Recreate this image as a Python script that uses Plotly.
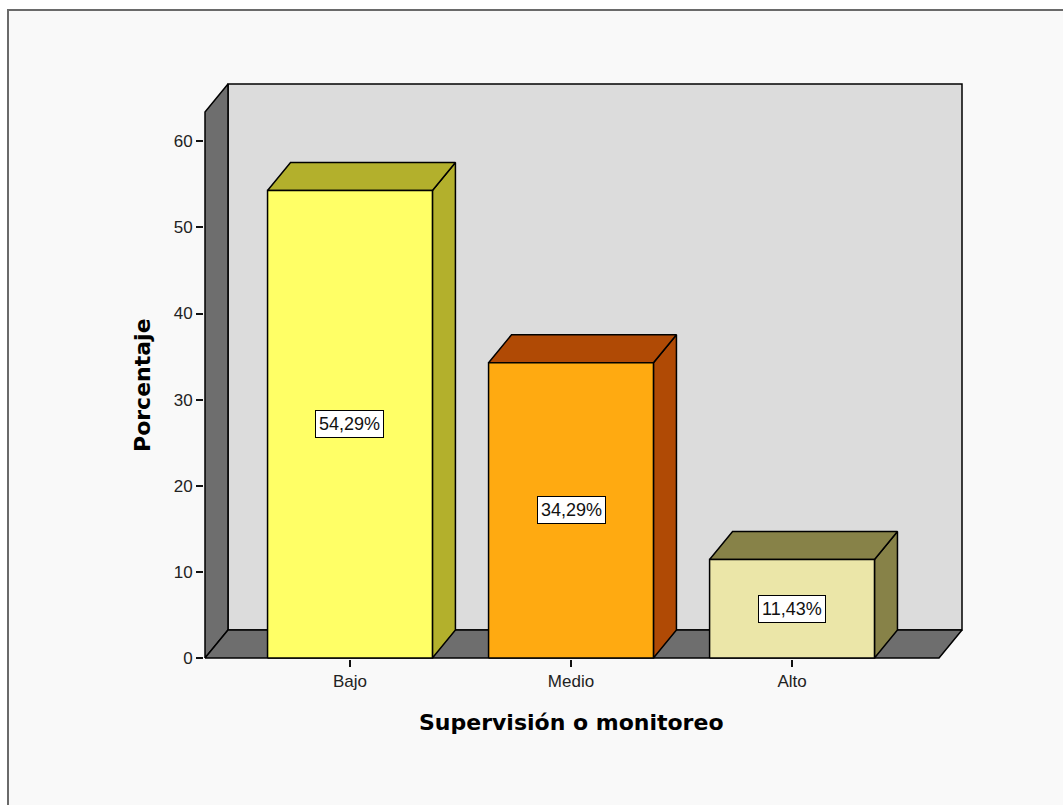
import plotly.graph_objects as go

# Data
categories = ["Bajo", "Medio", "Alto"]
percentages = [54.29, 34.29, 11.43]
value_labels = ["54,29%", "34,29%", "11,43%"]
y_ticks = [0, 10, 20, 30, 40, 50, 60]

# Styling
front_colors = ["#ffff66", "#ffaa11", "#ebe6a8"]
shade_colors = ["#b3b02c", "#b04a05", "#878248"]
WALL_BACK = "#dcdcdc"
WALL_SIDE = "#6e6e6e"
EDGE = "#000000"

# 3D box geometry (category units horizontally, percent units vertically)
BAR_HALF = 0.373
DEPTH_X = 0.104
DEPTH_Y = 3.25
X_LEFT = -0.656
X_RIGHT = 2.665
WALL_TOP = 63.4

# canvas layout (pixels)
W, H = 1063, 805
ML, MR, MT, MB = 204, 100, 83, 146
PX_X = 221.0          # pixels per category
PX_Y = 8.617          # pixels per percent point
PAD_X = 1 / PX_X
PAD_Y = 1 / PX_Y
plot_w = W - ML - MR
plot_h = H - MT - MB


def paper_x(px):
    return (px - ML) / plot_w


def paper_y(py):
    return (H - MB - py) / plot_h


fig = go.Figure()


def face(xs, ys, color, lw=1.5):
    fig.add_trace(go.Scatter(
        x=xs + [xs[0]], y=ys + [ys[0]], mode="lines", fill="toself",
        fillcolor=color, line=dict(color=EDGE, width=lw),
        hoverinfo="skip", showlegend=False))


# back wall, side wall and floor
face([X_LEFT + DEPTH_X, X_RIGHT + DEPTH_X, X_RIGHT + DEPTH_X, X_LEFT + DEPTH_X],
     [DEPTH_Y, DEPTH_Y, WALL_TOP + DEPTH_Y, WALL_TOP + DEPTH_Y], WALL_BACK)
face([X_LEFT, X_LEFT + DEPTH_X, X_LEFT + DEPTH_X, X_LEFT],
     [0, DEPTH_Y, WALL_TOP + DEPTH_Y, WALL_TOP], WALL_SIDE)
face([X_LEFT, X_RIGHT, X_RIGHT + DEPTH_X, X_LEFT + DEPTH_X],
     [0, 0, DEPTH_Y, DEPTH_Y], WALL_SIDE)

# bars: front, top and right faces
for i, v in enumerate(percentages):
    x0, x1 = i - BAR_HALF, i + BAR_HALF
    face([x1, x1 + DEPTH_X, x1 + DEPTH_X, x1], [0, DEPTH_Y, v + DEPTH_Y, v], shade_colors[i])
    face([x0, x1, x1 + DEPTH_X, x0 + DEPTH_X], [v, v, v + DEPTH_Y, v + DEPTH_Y], shade_colors[i])
    face([x0, x1, x1, x0], [0, 0, v, v], front_colors[i])

# value labels
for i, v in enumerate(percentages):
    fig.add_annotation(
        x=i, y=v / 2, text=value_labels[i], showarrow=False,
        font=dict(family="Liberation Sans, Arial", size=18, color="#111"),
        bgcolor="white", bordercolor="black", borderwidth=1, borderpad=3)

# axis titles
fig.add_annotation(
    xref="paper", yref="y", x=paper_x(143), y=WALL_TOP / 2,
    xanchor="center", yanchor="middle",
    text="<b>Porcentaje</b>", textangle=-90, showarrow=False,
    font=dict(family="DejaVu Sans", size=22, color="#000"))
fig.add_annotation(
    xref="x", yref="paper", x=1, y=paper_y(722),
    xanchor="center", yanchor="middle",
    text="<b>Supervisión o monitoreo</b>", showarrow=False,
    font=dict(family="DejaVu Sans", size=22, color="#000"))

# outer frame
fig.add_shape(
    type="rect", xref="paper", yref="paper", layer="below",
    x0=paper_x(8), x1=paper_x(W + 20), y0=paper_y(H + 20), y1=paper_y(10),
    fillcolor="#f9f9f9", line=dict(color="#6a6a6a", width=2))

fig.update_layout(
    width=W, height=H, autosize=False,
    margin=dict(l=ML, r=MR, t=MT, b=MB, pad=0),
    paper_bgcolor="white", plot_bgcolor="rgba(0,0,0,0)",
    showlegend=False,
    xaxis=dict(
        range=[X_LEFT - PAD_X, X_RIGHT + DEPTH_X + PAD_X],
        tickvals=list(range(len(categories))), ticktext=categories,
        ticks="outside", ticklen=7, tickwidth=1.5, tickcolor="#111",
        showgrid=False, zeroline=False, showline=False, fixedrange=True,
        tickfont=dict(family="Liberation Sans, Arial", size=17, color="#222")),
    yaxis=dict(
        range=[0 - PAD_Y, WALL_TOP + DEPTH_Y + PAD_Y],
        tickvals=y_ticks,
        ticks="outside", ticklen=7, tickwidth=1.5, tickcolor="#111",
        showgrid=False, zeroline=False, showline=False, fixedrange=True,
        tickfont=dict(family="Liberation Sans, Arial", size=17, color="#222")),
)

fig.write_html("out.html")
